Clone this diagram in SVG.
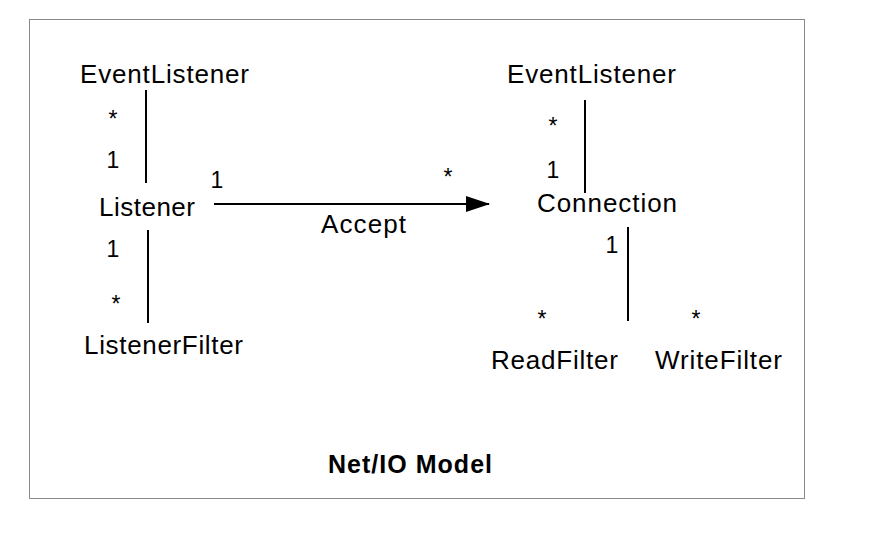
<svg xmlns="http://www.w3.org/2000/svg" width="896" height="536" viewBox="0 0 896 536">
<defs>
<style>
.lbl{font-family:"Liberation Sans",Arial,sans-serif;font-size:26px;fill:#000}
.m{font-family:"Liberation Sans",Arial,sans-serif;font-size:23px;fill:#000;text-anchor:middle}
.title{font-family:"Liberation Sans",Arial,sans-serif;font-size:25px;font-weight:bold;fill:#000}
.c{stroke:#000;stroke-width:2;fill:none}
</style>
<marker id="arr" markerWidth="24" markerHeight="16" refX="23" refY="8" orient="auto" markerUnits="userSpaceOnUse">
<path d="M0,0 L24,8 L0,16 Z" fill="#000"/>
</marker>
</defs>
<rect x="0" y="0" width="896" height="536" fill="#fff"/>
<rect x="29.5" y="19.5" width="775" height="479" fill="#fff" stroke="#8a8a8a" stroke-width="1"/>

<g id="connectors">
<line class="c" x1="146" y1="90" x2="146" y2="183"/>
<line class="c" x1="148" y1="230" x2="148" y2="323"/>
<line class="c" x1="214" y1="204" x2="489" y2="204" marker-end="url(#arr)"/>
<line class="c" x1="585" y1="100" x2="585" y2="193"/>
<line class="c" x1="628" y1="227" x2="628" y2="321"/>
<text class="m" x="113" y="127">*</text>
<text class="m" x="113" y="168">1</text>
<text class="m" x="217" y="188">1</text>
<text class="m" x="113" y="257">1</text>
<text class="m" x="116" y="312">*</text>
<text class="m" x="448" y="185">*</text>
<text class="lbl" x="321" y="233" textLength="85">Accept</text>
<text class="m" x="553" y="134">*</text>
<text class="m" x="553" y="178">1</text>
<text class="m" x="612" y="253">1</text>
<text class="m" x="542" y="327">*</text>
<text class="m" x="696" y="327">*</text>
</g>

<g id="node-eventlistener-left"><text class="lbl" x="80" y="83" textLength="169">EventListener</text></g>
<g id="node-listener"><text class="lbl" x="99" y="216" textLength="96">Listener</text></g>
<g id="node-listenerfilter"><text class="lbl" x="84" y="354" textLength="159">ListenerFilter</text></g>
<g id="node-eventlistener-right"><text class="lbl" x="507" y="83" textLength="169">EventListener</text></g>
<g id="node-connection"><text class="lbl" x="537" y="212" textLength="140">Connection</text></g>
<g id="node-readfilter"><text class="lbl" x="491" y="369" textLength="127">ReadFilter</text></g>
<g id="node-writefilter"><text class="lbl" x="655" y="369" textLength="127">WriteFilter</text></g>
<g id="title"><text class="title" x="328" y="473" textLength="164">Net/IO Model</text></g>
</svg>
